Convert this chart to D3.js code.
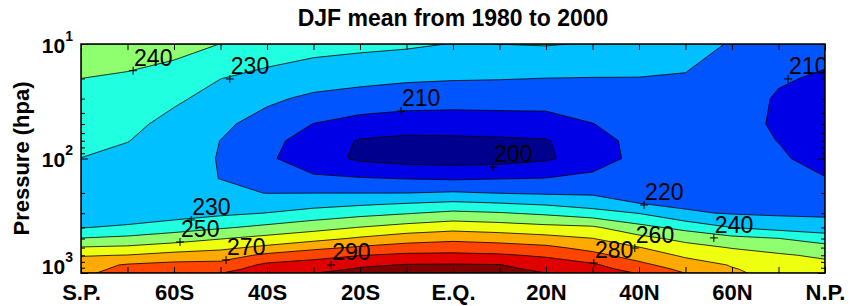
<!DOCTYPE html>
<html>
<head>
<meta charset="utf-8">
<script src="https://cdn.jsdelivr.net/npm/d3@7"></script>
<style>
body { margin: 0; background: #fff; }
text { font-family: "Liberation Sans", Arial, Helvetica, sans-serif; }
</style>
</head>
<body>
<div id="chart"></div>
<script>
// grid: latitude columns and pressure levels (hPa)
var lats = [-90, -75, -60, -50, -40, -30, -20, -10, 0, 10, 20, 30, 40, 50, 60, 75, 90];
var levels = [10, 20, 30, 50, 70, 100, 150, 200, 250, 300, 400, 500, 600, 700, 850, 925, 1000];

// DJF mean temperature (K), one array per level, S.P. -> N.P.
var t10   = [245, 244, 243.5, 239.9, 235, 233.5, 232.5, 231.5, 229.7, 230.05, 230.6, 229.3, 227.5, 223.5, 219.3, 217.5, 214];
var t20   = [240, 239, 236, 230.1, 227.6, 224.7, 222.8, 221.4, 220.7, 220.4, 219.9, 219.7, 219.7, 219.3, 216.5, 211.2, 208.5];
var t30   = [237.3, 236.2, 231.6, 226.5, 221.9, 217.9, 216.1, 214.6, 214.1, 214.2, 214.1, 215.3, 216.5, 217.5, 215.5, 208.8, 206.5];
var t50   = [234.2, 232.6, 227, 222, 216, 209.8, 206.4, 205, 204.8, 205.3, 205.8, 209.8, 213.8, 215.5, 214, 208.5, 205.5];
var t70   = [232.1, 230.3, 225, 219.9, 213, 205.5, 199.2, 197.5, 198, 198.5, 199.3, 206, 213.2, 214.5, 213.5, 209.8, 205.3];
var t100  = [229.9, 227, 222.5, 219.7, 211.5, 204.5, 198.3, 196, 195.5, 196, 198.6, 205, 213, 214, 213.2, 211.5, 206];
var t150  = [226, 223.5, 222, 219.9, 214, 211.6, 210.8, 209.8, 209, 209.8, 210.4, 212.5, 214, 214.5, 214, 214, 210.5];
var t200  = [223.5, 222, 222, 222, 219.8, 219.9, 219.9, 219.9, 221, 219.7, 218.8, 218.6, 216.5, 216.5, 215.5, 215.5, 214];
var t250  = [223, 222, 222.5, 225, 225.5, 227, 228.8, 230.7, 232.5, 231, 229, 225.8, 220.3, 218.5, 217.5, 217, 216.5];
var t300  = [224.5, 224, 225, 228, 230.2, 233.6, 236.7, 239.3, 242.2, 240.7, 238.2, 234.2, 229.7, 221.2, 219.3, 218.5, 218.2];
var t400  = [229.6, 231.5, 235.5, 238.8, 242.4, 246.3, 250.3, 253.8, 256.4, 254.9, 252.8, 251.5, 243.1, 236.9, 229.9, 226.4, 224.6];
var t500  = [240.5, 242.5, 245.3, 249.5, 253.2, 256.8, 261.4, 265.5, 267.5, 265.8, 263.5, 260.2, 253.2, 247.2, 242.9, 240.2, 235];
var t600  = [250.7, 251.8, 255.1, 257.8, 262.3, 267.5, 271.4, 274.3, 275.5, 274.4, 272.2, 266.8, 260.4, 253.5, 249.5, 246.3, 243.5];
var t700  = [259.2, 260.3, 263.3, 264.8, 272.3, 276.3, 279.7, 281.9, 282.1, 281.2, 278.6, 273, 265.5, 258.4, 254, 251.2, 248.3];
var t850  = [266, 270.9, 273, 273.3, 282, 284.3, 288.5, 290.5, 290.8, 290.3, 285.3, 281.5, 272.6, 264.6, 259.4, 255.5, 252.5];
var t925  = [268, 271.5, 275, 276.6, 284, 287.1, 291, 293, 293.5, 292, 288, 283.5, 276.3, 267.3, 260.5, 257, 254];
var t1000 = [269, 272, 277, 279.8, 286, 289.8, 293, 295, 296, 294, 290.05, 285, 279.5, 269.8, 261, 258, 255.5];
var temps = [t10, t20, t30, t50, t70, t100, t150, t200, t250, t300, t400, t500, t600, t700, t850, t925, t1000];

var thresholds = [200, 210, 220, 230, 240, 250, 260, 270, 280, 290];
var bandColors = ["#00008f", "#0000e6", "#0055ff", "#00c0ff", "#20ffdf", "#90ff6f",
                  "#efff10", "#ffaa00", "#ff4500", "#df0000", "#800000"];

// x axis tick labels
var xTickVals = [-90, -60, -40, -20, 0, 20, 40, 60, 90];
var xTickLabels = ["S.P.", "60S", "40S", "20S", "E.Q.", "20N", "40N", "60N", "N.P."];
var yMajor = [10, 100, 1000];
var yMinor = [20, 30, 40, 50, 60, 70, 80, 90, 200, 300, 400, 500, 600, 700, 800, 900];

// contour labels: value, latitude, pressure
var labelVals = [240, 230, 210, 210, 200, 230, 250, 270, 290, 220, 240, 260, 280];
var labelLats = [-73.2, -48, -11.2, 78.1, 8.6, -56.3, -58.7, -48.8, -26.2, 41.1, 56.1, 39.1, 30.3];
var labelPres = [17.1, 20.2, 38.5, 20.2, 118.6, 344, 536, 769, 851, 254.7, 494, 605, 818];

var W = 852, H = 306;
var plotL = 81, plotT = 44, plotR = 825, plotB = 273;

var svg = d3.select("#chart").append("svg")
    .attr("width", W)
    .attr("height", H);

var x = d3.scaleLinear()
    .domain(xTickVals)
    .range(xTickVals.map(function(d, i){ return plotL + i * (plotR - plotL) / (xTickVals.length - 1); }));

var y = d3.scaleLog()
    .domain([10, 1000])
    .range([plotT, plotB]);

// grid index -> screen
function gridX(c){
    var f = Math.max(0, Math.min(lats.length - 1, c - 0.5));
    var i = Math.min(Math.floor(f), lats.length - 2);
    return x(lats[i] + (f - i) * (lats[i + 1] - lats[i]));
}
function gridY(c){
    var f = Math.max(0, Math.min(levels.length - 1, c - 0.5));
    var i = Math.min(Math.floor(f), levels.length - 2);
    var y0 = y(levels[i]), y1 = y(levels[i + 1]);
    return y0 + (f - i) * (y1 - y0);
}

var values = [];
temps.forEach(function(row){ row.forEach(function(v){ values.push(v); }); });

var contours = d3.contours()
    .size([lats.length, levels.length])
    .thresholds(thresholds)(values);

var path = d3.geoPath(d3.geoTransform({
    point: function(px, py){ this.stream.point(gridX(px), gridY(py)); }
}));

svg.append("clipPath").attr("id", "plotclip")
  .append("rect")
    .attr("x", plotL).attr("y", plotT)
    .attr("width", plotR - plotL).attr("height", plotB - plotT);

var plot = svg.append("g").attr("clip-path", "url(#plotclip)");

plot.append("rect")
    .attr("x", plotL).attr("y", plotT)
    .attr("width", plotR - plotL).attr("height", plotB - plotT)
    .attr("fill", bandColors[0]);

plot.selectAll("path.band")
    .data(contours)
  .enter().append("path")
    .attr("class", "band")
    .attr("d", path)
    .attr("fill", function(d, i){ return bandColors[i + 1]; })
    .attr("stroke", "#000")
    .attr("stroke-width", 0.8)
    .attr("stroke-linejoin", "round");

// contour labels with + markers
var labels = plot.selectAll("g.clabel")
    .data(labelVals)
  .enter().append("g")
    .attr("class", "clabel")
    .attr("transform", function(d, i){ return "translate(" + x(labelLats[i]) + "," + y(labelPres[i]) + ")"; });

labels.append("path")
    .attr("d", "M-4,0H4M0,-4V4")
    .attr("stroke", "#000")
    .attr("stroke-width", 1);

labels.append("text")
    .attr("x", 1)
    .attr("y", -5)
    .attr("font-size", "23px")
    .attr("fill", "#000")
    .text(function(d){ return d; });

// inner ticks
function ticks(axis, tx, ty){
    var g = svg.append("g").attr("transform", "translate(" + tx + "," + ty + ")").call(axis);
    g.select(".domain").remove();
    g.selectAll("text").remove();
    g.selectAll("line").attr("stroke", "#000").attr("stroke-width", 1);
}
ticks(d3.axisBottom(x).tickValues(lats).tickSize(-6), 0, plotB);
ticks(d3.axisTop(x).tickValues(lats).tickSize(-6), 0, plotT);
ticks(d3.axisLeft(y).tickValues(yMinor).tickSize(-4), plotL, 0);
ticks(d3.axisRight(y).tickValues(yMinor).tickSize(-4), plotR, 0);
ticks(d3.axisLeft(y).tickValues(yMajor).tickSize(-7), plotL, 0);
ticks(d3.axisRight(y).tickValues(yMajor).tickSize(-7), plotR, 0);

// frame
svg.append("rect")
    .attr("x", plotL).attr("y", plotT)
    .attr("width", plotR - plotL).attr("height", plotB - plotT)
    .attr("fill", "none")
    .attr("stroke", "#000")
    .attr("stroke-width", 1.5);

// x tick labels
var xAxis = svg.append("g")
    .attr("transform", "translate(0," + plotB + ")")
    .call(d3.axisBottom(x).tickValues(xTickVals)
        .tickFormat(function(d, i){ return xTickLabels[i]; })
        .tickSize(0).tickPadding(11.5));
xAxis.select(".domain").remove();
xAxis.selectAll("text")
    .attr("font-family", "Liberation Sans, Arial, sans-serif")
    .attr("font-size", "22px")
    .attr("font-weight", "bold")
    .attr("fill", "#000");

// y tick labels 10^n
var yLab = svg.append("g").selectAll("text")
    .data(yMajor)
  .enter().append("text")
    .attr("x", 73)
    .attr("y", function(d, i){ return y(d) + (i == yMajor.length - 1 ? 1 : 8.5); })
    .attr("text-anchor", "end")
    .attr("font-weight", "bold")
    .attr("font-size", "21px")
    .attr("fill", "#000");
yLab.append("tspan").text("10");
yLab.append("tspan")
    .attr("font-size", "14px")
    .attr("dy", -12)
    .text(function(d){ return Math.round(Math.log10(d)); });

// title and axis label
svg.append("text")
    .attr("x", (plotL + plotR) / 2)
    .attr("y", 26)
    .attr("text-anchor", "middle")
    .attr("font-size", "23px")
    .attr("font-weight", "bold")
    .text("DJF mean from 1980 to 2000");

svg.append("text")
    .attr("transform", "translate(29," + (plotT + plotB) / 2 + ") rotate(-90)")
    .attr("text-anchor", "middle")
    .attr("font-size", "22px")
    .attr("font-weight", "bold")
    .text("Pressure (hpa)");
</script>
</body>
</html>
